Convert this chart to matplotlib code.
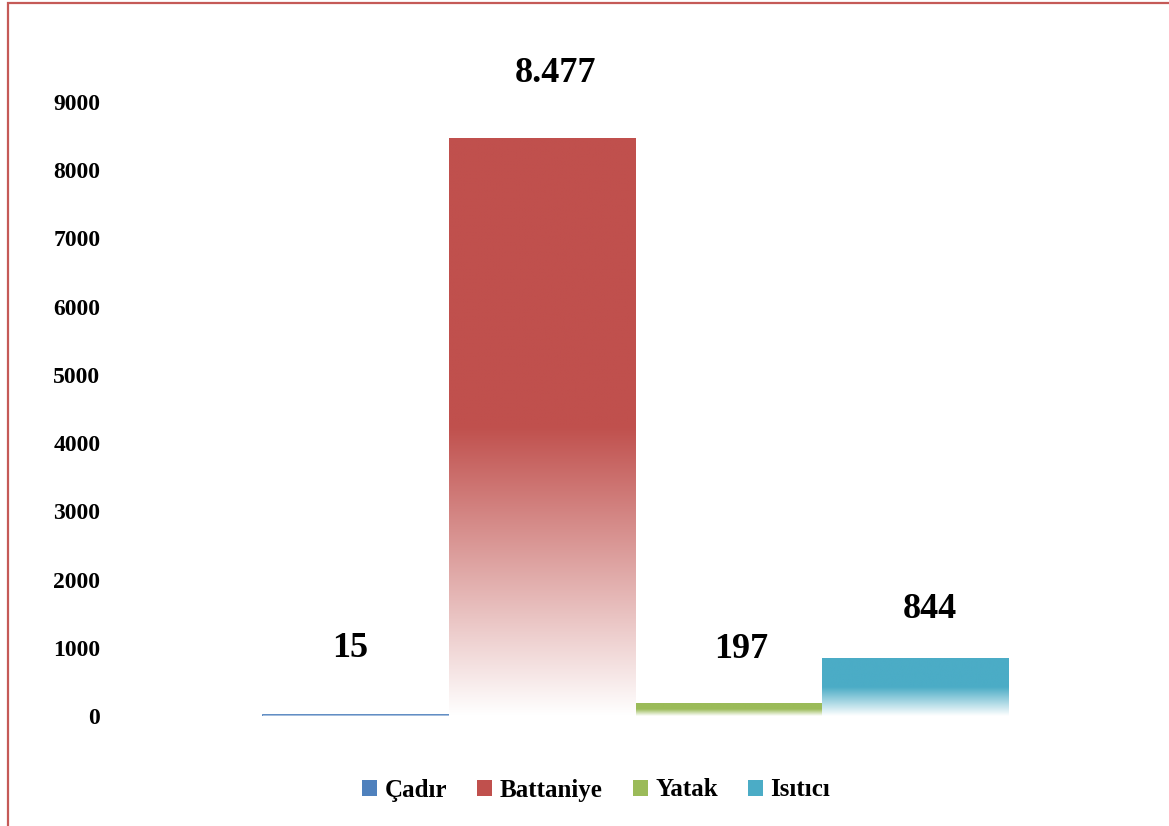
import numpy as np
import matplotlib
matplotlib.use("Agg")
import matplotlib.pyplot as plt
from matplotlib.patches import Rectangle, Patch
from matplotlib.colors import to_rgb

# Data ======================================================================
categories = ["Çadır", "Battaniye", "Yatak", "Isıtıcı"]
values = [15, 8477, 197, 844]
value_labels = ["15", "8.477", "197", "844"]
colors = ["#4f81bd", "#c0504d", "#9bbb59", "#4bacc6"]
yticks = [0, 1000, 2000, 3000, 4000, 5000, 6000, 7000, 8000, 9000]

# label offsets from bar top centre (points)
label_dx = [-4, 9, 9, 10]
label_dy = [42, 40, 32, 29]

plt.rcParams['font.family'] = ['Liberation Serif', 'DejaVu Serif']
plt.rcParams['font.weight'] = 'bold'

fig = plt.figure(figsize=(11.69, 8.26), dpi=100)
ax = fig.add_axes([110/1169, 1 - 716/826, 1050/1169, 614/826])

x = np.arange(len(categories))
bars = ax.bar(x, values, width=1.0, color=colors, linewidth=0)

def gradient_img(color, n=256):
    # top half solid, bottom half fades to white
    rgb = np.array(to_rgb(color))
    t = np.linspace(0, 1, n)  # 0 = top, 1 = bottom
    a = np.clip((1 - t) / 0.5, 0, 1)
    img = a[:, None] * rgb[None, :] + (1 - a[:, None]) * np.ones(3)[None, :]
    return img[:, None, :]

for b, c in zip(bars, colors):
    x0, y0 = b.get_x(), b.get_y()
    w, h = b.get_width(), b.get_height()
    b.set_facecolor("none")
    im = ax.imshow(gradient_img(c), extent=(x0, x0 + w, y0, y0 + h),
                   aspect="auto", interpolation="bilinear", zorder=2)
    im.set_clip_path(b)

# thin first bar gets a visible line
bars[0].set_edgecolor(colors[0])
bars[0].set_linewidth(2.0)

for b, lab, dx, dy in zip(bars, value_labels, label_dx, label_dy):
    ax.annotate(lab, (b.get_x() + b.get_width() / 2, b.get_height()),
                xytext=(dx, dy), textcoords="offset points",
                ha="center", va="baseline", fontsize=26, fontweight="bold")

ax.set_xlim(-1.32, 4.31)
ax.set_ylim(0, 9000)
ax.set_yticks(yticks)
ax.set_yticklabels([str(v) for v in yticks], fontsize=17, fontweight="bold")
ax.tick_params(axis="y", length=0, pad=7)
ax.set_xticks([])
for s in ax.spines.values():
    s.set_visible(False)

handles = [Patch(facecolor=c, edgecolor="none") for c in colors]
fig.legend(handles, categories, loc="center", bbox_to_anchor=(0.510, 1 - 790/826),
           ncol=4, frameon=False, handlelength=0.6, handleheight=0.6,
           handletextpad=0.3, columnspacing=1.2,
           prop={"family": "Liberation Serif", "weight": "bold", "size": 18})

# chart border (top and left visible)
fig.patches.append(Rectangle((8/1169, -0.2), 1.2, 1.2 - 3/826, transform=fig.transFigure,
                             fill=False, edgecolor="#c55a57", linewidth=1.6))

fig.savefig("out.png", dpi=100)
